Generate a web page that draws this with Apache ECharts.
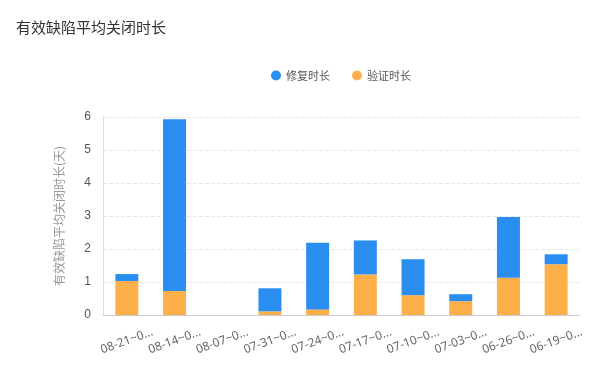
<!DOCTYPE html>
<html><head><meta charset="utf-8">
<script src="https://cdn.jsdelivr.net/npm/echarts@6/dist/echarts.min.js"></script>
<style>html,body{margin:0;padding:0;background:#fff}#c{width:600px;height:366px}</style>
</head><body><div id="c"></div>
<script>
const categories = ['08-21~08-27','08-14~08-20','08-07~08-13','07-31~08-06','07-24~07-30','07-17~07-23','07-10~07-16','07-03~07-09','06-26~07-02','06-19~06-25'];
const repairValues = [0.21, 5.2, 0, 0.70, 2.02, 1.03, 1.09, 0.21, 1.84, 0.30];
const verifyValues = [1.03, 0.73, 0, 0.11, 0.17, 1.23, 0.60, 0.42, 1.13, 1.54];
const yTicks = [0,1,2,3,4,5,6];

const chart = echarts.init(document.getElementById('c'));
chart.setOption({
  animation: false,
  title: { text: '有效缺陷平均关闭时长', left: 11, top: 15, textStyle: { fontSize: 15, fontWeight: 'normal', color: '#333', fontFamily: 'Noto Sans CJK SC' } },
  legend: {
    data: ['修复时长','验证时长'], top: 65, left: 266, icon: 'circle', itemWidth: 10, itemHeight: 10, itemGap: 22,
    textStyle: { fontSize: 11, color: '#555', fontFamily: 'Noto Sans CJK SC' }
  },
  grid: { left: 103, right: 20, top: 117, bottom: 51 },
  xAxis: {
    type: 'category', data: categories,
    axisLine: { lineStyle: { color: '#ccc' } },
    axisTick: { alignWithLabel: true, length: 4, lineStyle: { color: '#ccc' } },
    axisLabel: { rotate: 20, interval: 0, color: '#666', fontSize: 12, width: 58, overflow: 'truncate', ellipsis: '...', margin: 26, align: 'center', fontFamily: 'Noto Sans' }
  },
  yAxis: {
    type: 'value', min: 0, max: 6, interval: 1,
    name: '有效缺陷平均关闭时长(天)', nameLocation: 'middle', nameGap: 38, nameRotate: 90,
    nameTextStyle: { fontSize: 12, color: '#999', fontFamily: 'Noto Sans CJK SC' },
    axisLine: { show: true, lineStyle: { color: '#ddd' } },
    axisTick: { show: false },
    axisLabel: { color: '#555', fontSize: 12, margin: 12, formatter: v => yTicks.includes(v) ? String(v) : '' },
    splitLine: { lineStyle: { color: '#e6e6e6', type: 'dashed' } }
  },
  series: [
    { name: '验证时长', type: 'bar', stack: 'total', data: verifyValues, barWidth: 23, itemStyle: { color: '#fdb04a' } },
    { name: '修复时长', type: 'bar', stack: 'total', data: repairValues, barWidth: 23, itemStyle: { color: '#2a8ef0' } }
  ]
});
</script></body></html>
